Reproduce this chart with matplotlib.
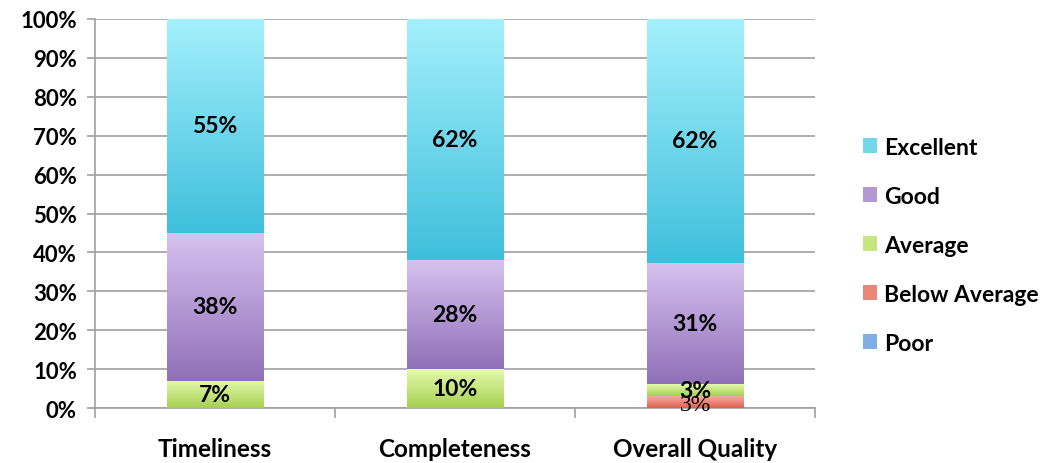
import numpy as np
import matplotlib.pyplot as plt
from matplotlib.colors import LinearSegmentedColormap
from matplotlib.patches import Patch

categories = ["Timeliness", "Completeness", "Overall Quality"]
levels = ["Poor", "Below Average", "Average", "Good", "Excellent"]
poor = [0, 0, 0]
below_average = [0, 0, 3]
average = [7, 10, 3]
good = [38, 28, 31]
excellent = [55, 62, 62]

# (top colour, bottom colour) of each gradient
shades = {
    "Poor": ("#a8cdf4", "#5690d8"),
    "Below Average": ("#f8aca4", "#e0604e"),
    "Average": ("#e4faae", "#a6d050"),
    "Good": ("#d6c2f0", "#9070b8"),
    "Excellent": ("#a4f0fc", "#3ebfdc"),
}

plt.rcParams["font.family"] = ["Lato", "DejaVu Sans"]
plt.rcParams["font.weight"] = "bold"

series = [poor, below_average, average, good, excellent]
data = np.array(series, dtype=float)
totals = data.sum(axis=0)
shares = data / totals * 100

fig = plt.figure(figsize=(10.44, 4.64), dpi=100)
ax = fig.add_axes([0.091, 0.1185, 0.6897, 0.8384])

x = np.arange(len(categories))
bottom = np.zeros(len(categories))
grid = np.linspace(1, 0, 256).reshape(-1, 1)

for name, vals, share in zip(levels, series, shares):
    bars = ax.bar(x, share, 0.4, bottom=bottom, color="none", edgecolor="none", zorder=3)
    cmap = LinearSegmentedColormap.from_list(name, [shades[name][1], shades[name][0]])
    for bar, v, s, b in zip(bars, vals, share, bottom):
        if s <= 0:
            continue
        x0 = bar.get_x()
        im = ax.imshow(grid, cmap=cmap, vmin=0, vmax=1, aspect="auto",
                       extent=(x0, x0 + bar.get_width(), b, b + s), zorder=3)
        im.set_clip_path(bar)
        cx = x0 + bar.get_width() / 2
        if name == "Below Average":
            ax.text(cx, b + s / 2 - 0.6, f"{v}%", ha="center", va="center",
                    fontsize=17, fontweight="normal", family="Liberation Serif", zorder=5)
        else:
            ax.text(cx, b + s / 2, f"{v}%", ha="center", va="center",
                    fontsize=16.5, fontweight="bold", zorder=5)
    bottom += share

ax.set_xlim(-0.5, 2.5)
ax.set_ylim(0, 100)
ax.set_yticks(np.arange(0, 101, 10))
ax.set_yticklabels([f"{t}%" for t in range(0, 101, 10)], fontsize=16)
ax.set_xticks(x)
ax.set_xticklabels(categories, fontsize=17.5)
ax.tick_params(axis="x", which="major", length=0, pad=21)
ax.set_xticks([-0.5, 0.5, 1.5, 2.5], minor=True)
ax.tick_params(axis="x", which="minor", length=7, color="#a0a0a0", width=1.2)
ax.tick_params(axis="y", length=6, color="#a0a0a0", width=1.2, pad=7)
ax.grid(axis="y", color="#a0a0a0", linewidth=1.2, zorder=0)
ax.set_axisbelow(True)
for side in ["top", "right"]:
    ax.spines[side].set_visible(False)
for side in ["left", "bottom"]:
    ax.spines[side].set_color("#a0a0a0")
    ax.spines[side].set_linewidth(1.2)

handles = [Patch(facecolor=LinearSegmentedColormap.from_list("m", [shades[n][1], shades[n][0]])(0.5),
                 edgecolor="none") for n in levels[::-1]]
fig.legend(handles, levels[::-1], loc="center left", bbox_to_anchor=(0.807, 0.469),
           frameon=False, fontsize=16.5, handlelength=0.62, handleheight=0.62,
           handletextpad=0.3, labelspacing=1.22)

fig.savefig("out.png", dpi=100)
